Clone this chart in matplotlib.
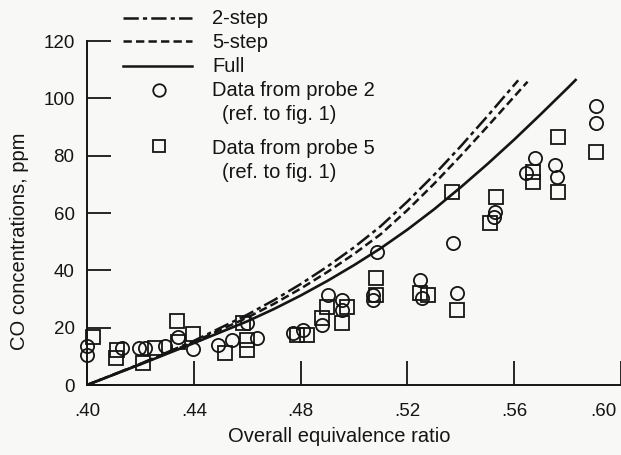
import matplotlib
matplotlib.use("Agg")
import matplotlib.pyplot as plt
from matplotlib.lines import Line2D
from matplotlib.transforms import ScaledTranslation

plt.rcParams["font.family"] = ["Liberation Sans", "DejaVu Sans"]
plt.rcParams["lines.scale_dashes"] = False

# model curves (equivalence ratio, CO ppm)
full_x = [0.40, 0.42, 0.44, 0.46, 0.47, 0.48, 0.49, 0.50, 0.51, 0.52, 0.53, 0.54,
          0.55, 0.56, 0.57, 0.58, 0.583]
full_y = [0.0, 7.2, 14.6, 22.2, 26.5, 31.2, 36.3, 41.8, 47.7, 54.2, 61.3, 69.0,
          77.1, 85.6, 94.5, 103.6, 106.4]
step5_x = [0.40, 0.42, 0.44, 0.46, 0.47, 0.48, 0.49, 0.50, 0.51, 0.52, 0.53, 0.54,
           0.55, 0.56, 0.565]
step5_y = [0.0, 7.3, 15.0, 23.5, 28.3, 33.6, 39.4, 45.7, 52.6, 61.0, 70.2, 80.0,
           90.2, 100.6, 105.8]
step2_x = [0.40, 0.42, 0.44, 0.46, 0.47, 0.48, 0.49, 0.50, 0.51, 0.52, 0.53, 0.54,
           0.55, 0.5615]
step2_y = [0.0, 7.4, 15.4, 24.5, 29.6, 35.2, 41.3, 48.0, 55.4, 64.0, 73.3, 83.3,
           93.8, 106.3]

# probe 2 (circles)
p2_x = [0.400, 0.400, 0.4131, 0.4195, 0.4217, 0.4292, 0.4341, 0.4397, 0.4491, 0.4543,
        0.4600, 0.4637, 0.4772, 0.4809, 0.4903, 0.4881, 0.4956, 0.4956, 0.5087, 0.5072,
        0.5072, 0.5248, 0.5255, 0.5371, 0.5386, 0.5529, 0.5525, 0.5679, 0.5645, 0.5754,
        0.5761, 0.5907, 0.5907]
p2_y = [13.5, 10.5, 12.9, 12.9, 12.9, 13.6, 16.8, 12.6, 14.0, 15.7,
        21.6, 16.4, 18.1, 19.2, 31.4, 21.0, 29.7, 26.2, 46.4, 31.4,
        29.7, 36.6, 30.4, 49.6, 32.1, 60.4, 58.6, 79.2, 74.0, 76.8,
        72.6, 97.4, 91.4]

# probe 5 (squares)
p5_x = [0.4022, 0.4112, 0.4109, 0.4210, 0.4255, 0.4337, 0.4341, 0.4397, 0.4517, 0.4585,
        0.4600, 0.4600, 0.4787, 0.4824, 0.4899, 0.4881, 0.4974, 0.4956, 0.5083, 0.5083,
        0.5248, 0.5278, 0.5368, 0.5386, 0.5533, 0.5510, 0.5671, 0.5671, 0.5765, 0.5765,
        0.5907]
p5_y = [16.6, 12.2, 9.4, 7.7, 12.9, 22.5, 15.0, 17.8, 11.0, 21.6,
        15.7, 12.2, 17.5, 17.5, 27.2, 23.4, 27.2, 21.6, 37.3, 31.4,
        32.1, 31.4, 67.4, 26.2, 65.6, 56.5, 74.3, 70.9, 86.6, 67.4,
        81.3]

xticks = [0.40, 0.44, 0.48, 0.52, 0.56, 0.60]
xtick_labels = [".40", ".44", ".48", ".52", ".56", ".60"]
yticks = [0, 20, 40, 60, 80, 100, 120]

INK = "#151515"
BG = "#f8f8f7"
W, H = 621, 455

fig = plt.figure(figsize=(W / 100, H / 100), dpi=100, facecolor=BG)
ax = fig.add_axes([87 / W, 1 - 385 / H, (W - 87) / W, (385 - 41) / H])
ax.set_facecolor(BG)

dash2 = (0, (11, 3, 3, 3))
dash5 = (0, (6, 3))
ax.plot(step2_x, step2_y, color=INK, lw=1.8, ls=dash2)
ax.plot(step5_x, step5_y, color=INK, lw=1.8, ls=dash5)
ax.plot(full_x, full_y, color=INK, lw=1.9)

mk = dict(ls="none", mfc="none", mec=INK, mew=1.3, ms=9.5, clip_on=False)
ax.plot(p2_x, p2_y, marker="o", **mk)
ax.plot(p5_x, p5_y, marker="s", **mk)

ax.set_xlim(0.40, 0.60)
ax.set_ylim(0, 120)
ax.set_xticks(xticks)
ax.set_xticklabels(xtick_labels)
ax.set_yticks(yticks)
ax.tick_params(direction="in", length=17, width=1.3, colors=INK, labelsize=13.5)
ax.tick_params(axis="y", pad=9)
ax.tick_params(axis="x", pad=13)
last = ax.get_xticklabels()[-1]
last.set_ha("right")
last.set_transform(last.get_transform() + ScaledTranslation(-3 / 72, 0, fig.dpi_scale_trans))
for s in ["top", "right"]:
    ax.spines[s].set_visible(False)
for s in ["left", "bottom"]:
    ax.spines[s].set_linewidth(1.4)
    ax.spines[s].set_color(INK)

fig.text(20 / W, 1 - 241 / H, "CO concentrations, ppm", rotation=90,
         ha="center", va="center", fontsize=14.5, color=INK)
fig.text(339 / W, 1 - 437 / H, "Overall equivalence ratio",
         ha="center", va="center", fontsize=14.5, color=INK)

# hand-made legend above the plot
def fx(px):
    return px / W

def fy(py):
    return 1 - py / H

for py, style in [(18, dash2), (41, dash5), (66, "-")]:
    fig.add_artist(Line2D([fx(123), fx(192)], [fy(py), fy(py)], color=INK,
                          lw=1.8, ls=style, transform=fig.transFigure))
fig.add_artist(Line2D([fx(159)], [fy(90)], marker="o", ls="none", mfc="none",
                      mec=INK, mew=1.3, ms=9, transform=fig.transFigure))
fig.add_artist(Line2D([fx(159)], [fy(146)], marker="s", ls="none", mfc="none",
                      mec=INK, mew=1.3, ms=9, transform=fig.transFigure))
labels = [(19, "2-step", 212), (42, "5-step", 212), (66, "Full", 212),
          (91, "Data from probe 2", 212), (115, "(ref. to fig. 1)", 222),
          (148, "Data from probe 5", 212), (172, "(ref. to fig. 1)", 222)]
for py, txt, px in labels:
    fig.text(fx(px), fy(py), txt, ha="left", va="center", fontsize=14.5, color=INK)

fig.savefig("out.png", dpi=100, facecolor=BG)
